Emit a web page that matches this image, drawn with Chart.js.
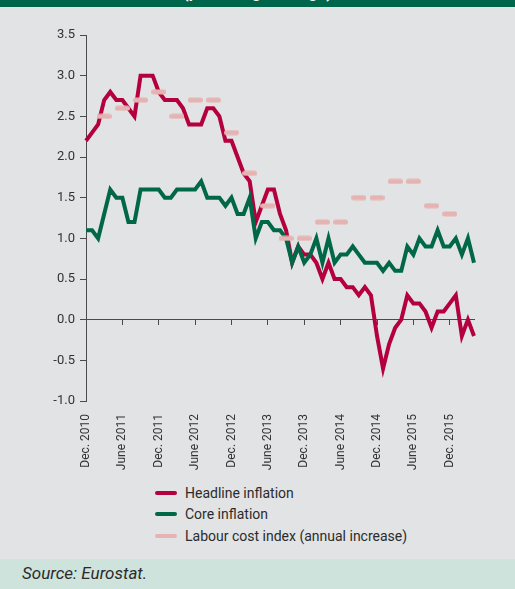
<!DOCTYPE html>
<html>
<head>
<meta charset="utf-8">
<script src="https://cdn.jsdelivr.net/npm/chart.js@4.4.1/dist/chart.umd.min.js"></script>
<style>
    html, body { margin: 0; padding: 0; }
    body {
        width: 515px;
        height: 589px;
        background: #e2e3e4;
        position: relative;
        overflow: hidden;
        font-family: Roboto, "Liberation Sans", sans-serif;
    }
    #cabecera {
        position: absolute; left: 0; top: 0; width: 515px; height: 7px;
        background: #00664b; overflow: hidden; z-index: 2;
    }
    #cabecera span {
        position: absolute; left: 0; width: 515px; top: -17px;
        text-align: center; color: #fff; font: bold 16px Roboto, sans-serif;
    }
    #grafico { position: absolute; left: 0; top: 0; }
    #leyenda { position: absolute; left: 0; top: 0; width: 515px; }
    .item { position: absolute; left: 155px; height: 20px; }
    .muestra { position: absolute; left: 0; top: 8px; width: 22px; height: 4px; border-radius: 3px; }
    .texto { position: absolute; left: 30px; top: 0; white-space: nowrap; font-size: 14px; line-height: 20px; color: #2b2b2b; }
    #fuente {
        position: absolute; left: 0; top: 559px; width: 515px; height: 30px;
        background: #cde3dc;
    }
    #fuente span {
        position: absolute; left: 22px; top: 4px; font-style: italic; font-size: 17px;
        color: #2b2b2b;
    }
</style>
</head>
<body>
<div id="cabecera"><span>(percentage change)</span></div>
<canvas id="grafico" width="515" height="470"></canvas>
<div id="leyenda"></div>
<div id="fuente"><span>Source: Eurostat.</span></div>

<script>
// Meses (categorías del eje X), de dic. 2010 a abr. 2016
const meses = [
    '2010-12',
    '2011-01', '2011-02', '2011-03', '2011-04', '2011-05', '2011-06', '2011-07', '2011-08', '2011-09', '2011-10', '2011-11', '2011-12',
    '2012-01', '2012-02', '2012-03', '2012-04', '2012-05', '2012-06', '2012-07', '2012-08', '2012-09', '2012-10', '2012-11', '2012-12',
    '2013-01', '2013-02', '2013-03', '2013-04', '2013-05', '2013-06', '2013-07', '2013-08', '2013-09', '2013-10', '2013-11', '2013-12',
    '2014-01', '2014-02', '2014-03', '2014-04', '2014-05', '2014-06', '2014-07', '2014-08', '2014-09', '2014-10', '2014-11', '2014-12',
    '2015-01', '2015-02', '2015-03', '2015-04', '2015-05', '2015-06', '2015-07', '2015-08', '2015-09', '2015-10', '2015-11', '2015-12',
    '2016-01', '2016-02', '2016-03', '2016-04'
];

// Etiquetas del eje X (cada 6 meses)
const etiquetasX = ['Dec. 2010', 'June 2011', 'Dec. 2011', 'June 2012', 'Dec. 2012', 'June 2013',
    'Dec. 2013', 'June 2014', 'Dec. 2014', 'June 2015', 'Dec. 2015'];

// Inflación general
const inflacionGeneral = [
    2.2,
    2.3, 2.4, 2.7, 2.8, 2.7, 2.7, 2.6, 2.5, 3.0, 3.0, 3.0, 2.8,
    2.7, 2.7, 2.7, 2.6, 2.4, 2.4, 2.4, 2.6, 2.6, 2.5, 2.2, 2.2,
    2.0, 1.8, 1.7, 1.2, 1.4, 1.6, 1.6, 1.3, 1.1, 0.7, 0.9, 0.8,
    0.8, 0.7, 0.5, 0.7, 0.5, 0.5, 0.4, 0.4, 0.3, 0.4, 0.3, -0.2,
    -0.6, -0.3, -0.1, 0.0, 0.3, 0.2, 0.2, 0.1, -0.1, 0.1, 0.1, 0.2,
    0.3, -0.2, 0.0, -0.2
];

// Inflación subyacente
const inflacionSubyacente = [
    1.1,
    1.1, 1.0, 1.3, 1.6, 1.5, 1.5, 1.2, 1.2, 1.6, 1.6, 1.6, 1.6,
    1.5, 1.5, 1.6, 1.6, 1.6, 1.6, 1.7, 1.5, 1.5, 1.5, 1.4, 1.5,
    1.3, 1.3, 1.5, 1.0, 1.2, 1.2, 1.1, 1.1, 1.0, 0.7, 0.9, 0.7,
    0.8, 1.0, 0.7, 1.0, 0.7, 0.8, 0.8, 0.9, 0.8, 0.7, 0.7, 0.7,
    0.6, 0.7, 0.6, 0.6, 0.9, 0.8, 1.0, 0.9, 0.9, 1.1, 0.9, 0.9,
    1.0, 0.8, 1.0, 0.7
];

// Índice de coste laboral, trimestral (T1 2011 - T4 2015), al final de cada trimestre
const costeLaboral = [2.5, 2.6, 2.7, 2.8, 2.5, 2.7, 2.7, 2.3, 1.8, 1.4,
    1.0, 1.0, 1.2, 1.2, 1.5, 1.5, 1.7, 1.7, 1.4, 1.3];

const ejeY = { min: -1.0, max: 3.5, paso: 0.5 };

const colores = {
    general: '#b4003d',
    subyacente: '#006747',
    laboral: '#e6b3b3',
    ejes: '#4a4a4a',
    texto: '#333333'
};

// Serie mensual con el dato trimestral en el último mes de cada trimestre
const costeMensual = meses.map((m, i) => {
    const t = i / 3 - 1;
    return (i % 3 === 0 && t >= 0 && t < costeLaboral.length) ? costeLaboral[t] : null;
});

// Marcador en forma de guion redondeado
function crearGuion(color) {
    const c = document.createElement('canvas');
    c.width = 15;
    c.height = 6;
    const g = c.getContext('2d');
    g.strokeStyle = color;
    g.lineWidth = 5;
    g.lineCap = 'round';
    g.beginPath();
    g.moveTo(2.5, 3);
    g.lineTo(12.5, 3);
    g.stroke();
    return c;
}

const fuenteEjes = 'Roboto';

const grafico = new Chart(document.getElementById('grafico'), {
    type: 'line',
    data: {
        labels: meses,
        datasets: [
            {
                label: 'Headline inflation',
                data: inflacionGeneral,
                borderColor: colores.general,
                backgroundColor: colores.general,
                borderWidth: 4,
                pointRadius: 0,
                tension: 0,
                order: 2
            },
            {
                label: 'Core inflation',
                data: inflacionSubyacente,
                borderColor: colores.subyacente,
                backgroundColor: colores.subyacente,
                borderWidth: 4,
                pointRadius: 0,
                tension: 0,
                order: 1
            },
            {
                label: 'Labour cost index (annual increase)',
                data: costeMensual,
                borderColor: colores.laboral,
                backgroundColor: colores.laboral,
                showLine: false,
                pointStyle: crearGuion(colores.laboral),
                pointRadius: 3,
                order: 0
            }
        ]
    },
    options: {
        responsive: false,
        animation: false,
        devicePixelRatio: 1,
        layout: { padding: { top: 35, right: 41, bottom: 0, left: 0 } },
        plugins: {
            legend: { display: false },
            tooltip: { enabled: false }
        },
        scales: {
            x: {
                type: 'category',
                position: 'bottom',
                grid: { display: false, drawTicks: false },
                border: { display: false },
                ticks: {
                    autoSkip: false,
                    minRotation: 90,
                    maxRotation: 90,
                    padding: 13,
                    color: colores.texto,
                    font: { family: fuenteEjes, size: 12 },
                    callback: (v, i) => (i % 6 === 0 ? etiquetasX[i / 6] : '')
                },
                afterFit: scale => { scale.height = 69; }
            },
            x0: {
                type: 'category',
                position: { y: 0 },
                ticks: { display: false, autoSkip: false },
                grid: {
                    drawOnChartArea: false,
                    drawTicks: true,
                    tickLength: 5,
                    color: ctx => (ctx.index % 6 === 0 ? colores.ejes : 'rgba(0,0,0,0)')
                },
                border: { color: colores.ejes, width: 1 }
            },
            y: {
                min: ejeY.min,
                max: ejeY.max,
                grid: { drawOnChartArea: false, drawTicks: true, tickLength: 6, color: colores.ejes },
                border: { color: colores.ejes, width: 1 },
                ticks: {
                    stepSize: ejeY.paso,
                    padding: 5,
                    color: colores.texto,
                    font: { family: fuenteEjes, size: 13 },
                    callback: v => v.toFixed(1)
                },
                afterFit: scale => { scale.width = 86; }
            }
        }
    }
});

// Leyenda en HTML, a partir de los datasets del gráfico
const leyenda = document.getElementById('leyenda');
const filasLeyenda = [483, 504, 526];
grafico.data.datasets.forEach((ds, i) => {
    const item = document.createElement('div');
    item.className = 'item';
    item.style.top = filasLeyenda[i] + 'px';
    item.innerHTML = `<span class="muestra" style="background:${ds.borderColor}"></span>` +
        `<span class="texto">${ds.label}</span>`;
    leyenda.appendChild(item);
});
</script>
</body>
</html>
